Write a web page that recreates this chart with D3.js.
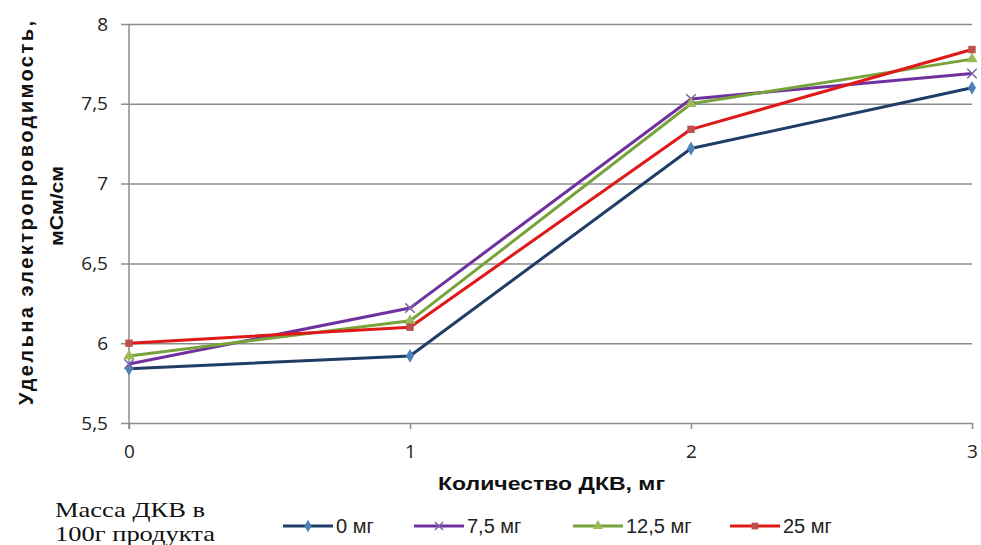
<!DOCTYPE html>
<html>
<head>
<meta charset="utf-8">
<script src="https://cdn.jsdelivr.net/npm/d3@7"></script>
<style>
  html, body { margin: 0; padding: 0; background: #fff; }
  svg { display: block; }
</style>
</head>
<body>
<svg id="chart" width="981" height="545"></svg>
<script>
// Amount of DKV added, mg (x categories)
const xValues = [0, 1, 2, 3];
const yTicks = [5.5, 6, 6.5, 7, 7.5, 8];

// Specific conductivity, mS/cm, per DKV mass in 100 g of product
const seriesNames = ["0 мг", "7,5 мг", "12,5 мг", "25 мг"];
const s0 = [5.84, 5.92, 7.22, 7.60];
const s75 = [5.87, 6.22, 7.53, 7.69];
const s125 = [5.92, 6.14, 7.50, 7.78];
const s25 = [6.00, 6.10, 7.34, 7.84];

const lineColors = ["#1f3d66", "#7030a0", "#77a33a", "#e01818"];
const markerColors = ["#4f81bd", "#8064a2", "#9bbb59", "#c0504d"];
const markerShapes = ["diamond", "cross", "triangle", "square"];

const series = [s0, s75, s125, s25].map((vals, i) => ({
  name: seriesNames[i],
  values: vals.map((v, j) => ({ x: xValues[j], y: v })),
  line: lineColors[i],
  marker: markerColors[i],
  shape: markerShapes[i]
}));

const svg = d3.select("#chart");
const plotLeft = 129, plotRight = 972, plotTop = 24, plotBottom = 423;

const x = d3.scaleLinear().domain([0, 3]).range([plotLeft, plotRight]);
const y = d3.scaleLinear().domain([5.5, 8]).range([plotBottom, plotTop]);

const tickFont = "'Open Sans', 'DejaVu Sans', sans-serif";
const gridColor = "#8c8c8c";

// Horizontal gridlines with left tick stubs
const yAxis = svg.append("g")
  .attr("transform", `translate(${plotLeft},0)`)
  .call(d3.axisLeft(y).tickValues(yTicks)
    .tickSize(-(plotRight - plotLeft))
    .tickFormat(d => String(d).replace(".", ","))
    .tickPadding(21));
yAxis.select(".domain").remove();
yAxis.selectAll(".tick line").attr("stroke", gridColor).attr("stroke-width", 1.5).attr("x1", -8);
yAxis.selectAll(".tick text")
  .attr("font-family", tickFont).attr("font-size", 19).attr("fill", "#222");

// Vertical axis line
svg.append("line")
  .attr("x1", plotLeft).attr("x2", plotLeft).attr("y1", plotTop).attr("y2", plotBottom + 6)
  .attr("stroke", gridColor).attr("stroke-width", 1.5);

// X axis with downward ticks
const xAxis = svg.append("g")
  .attr("transform", `translate(0,${plotBottom})`)
  .call(d3.axisBottom(x).tickValues(xValues).tickSize(6).tickPadding(16).tickFormat(d3.format("d")));
xAxis.select(".domain").remove();
xAxis.selectAll(".tick line").attr("stroke", gridColor).attr("stroke-width", 1.5);
xAxis.selectAll(".tick text")
  .attr("font-family", tickFont).attr("font-size", 19).attr("fill", "#222");

// Axis titles
svg.append("text")
  .attr("x", 438).attr("y", 490)
  .attr("font-family", "'Liberation Sans', sans-serif")
  .attr("font-weight", "bold").attr("font-size", 19).attr("fill", "#111")
  .attr("textLength", 227).attr("lengthAdjust", "spacingAndGlyphs")
  .text("Количество  ДКВ, мг");

const yTitle = svg.append("g").attr("transform", "translate(0,213) rotate(-90)");
yTitle.append("text")
  .attr("x", -192).attr("y", 33)
  .attr("font-family", "'Liberation Sans', 'DejaVu Sans', sans-serif")
  .attr("font-weight", "bold").attr("font-size", 20).attr("fill", "#111")
  .attr("textLength", 384).attr("lengthAdjust", "spacing")
  .text("Удельна электропроводимость,");
yTitle.append("text")
  .attr("x", -33).attr("y", 63)
  .attr("font-family", "'Liberation Sans', 'DejaVu Sans', sans-serif")
  .attr("font-weight", "bold").attr("font-size", 19).attr("fill", "#111")
  .attr("textLength", 80).attr("lengthAdjust", "spacingAndGlyphs")
  .text("мСм/см");

// Marker drawing
const symbolFor = {
  diamond: d3.symbolDiamond,
  square: d3.symbolSquare,
  triangle: d3.symbolTriangle,
  cross: d3.symbolX
};
function drawMarker(g, s, cx, cy, size) {
  const sym = d3.symbol().type(symbolFor[s.shape]).size(size);
  const p = g.append("path")
    .attr("d", sym())
    .attr("transform", `translate(${cx},${cy})`);
  if (s.shape === "cross") {
    p.attr("fill", "none").attr("stroke", s.marker).attr("stroke-width", 1.5);
  } else {
    p.attr("fill", s.marker);
  }
}

const line = d3.line().x(d => x(d.x)).y(d => y(d.y));
const plot = svg.append("g");
series.forEach(s => {
  plot.append("path")
    .datum(s.values)
    .attr("fill", "none")
    .attr("stroke", s.line)
    .attr("stroke-width", 3)
    .attr("stroke-linejoin", "round")
    .attr("d", line);
});
series.forEach(s => {
  s.values.forEach(d => drawMarker(plot, s, x(d.x), y(d.y), s.shape === "cross" ? 60 : 55));
});

// Legend
const serif = "'Liberation Serif', 'DejaVu Serif', serif";
svg.append("text").attr("x", 55).attr("y", 517)
  .attr("font-family", serif).attr("font-size", 21).attr("fill", "#111")
  .attr("textLength", 150).attr("lengthAdjust", "spacingAndGlyphs")
  .text("Масса ДКВ в");
svg.append("text").attr("x", 55).attr("y", 541)
  .attr("font-family", serif).attr("font-size", 21).attr("fill", "#111")
  .attr("textLength", 160).attr("lengthAdjust", "spacingAndGlyphs")
  .text("100г  продукта");

const legendX = [283, 414, 573, 730];
const legendY = 526;
series.forEach((s, i) => {
  const g = svg.append("g");
  g.append("line")
    .attr("x1", legendX[i]).attr("x2", legendX[i] + 50)
    .attr("y1", legendY).attr("y2", legendY)
    .attr("stroke", s.line).attr("stroke-width", 3);
  drawMarker(g, s, legendX[i] + 25, legendY, 45);
  g.append("text")
    .attr("x", legendX[i] + 53).attr("y", legendY + 7)
    .attr("font-family", "'Liberation Sans', sans-serif")
    .attr("font-size", 20).attr("fill", "#222")
    .text(s.name);
});
</script>
</body>
</html>
